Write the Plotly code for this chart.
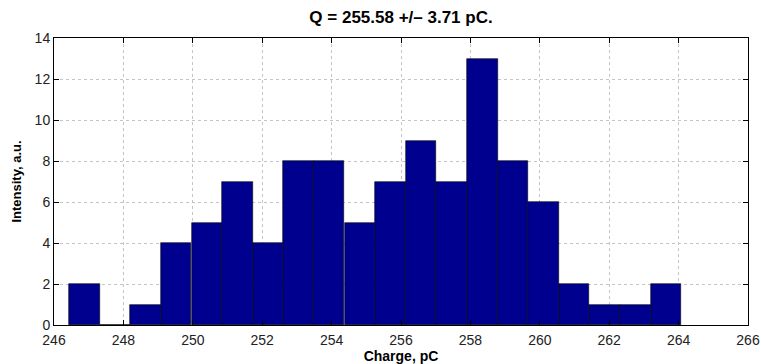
import plotly.graph_objects as go

bin_centers = [246.88, 247.76, 248.64, 249.52, 250.41, 251.29, 252.17, 253.05,
               253.93, 254.82, 255.70, 256.58, 257.46, 258.34, 259.23, 260.11,
               260.99, 261.87, 262.75, 263.64]
counts = [2, 0, 1, 4, 5, 7, 4, 8, 8, 5, 7, 9, 7, 13, 8, 6, 2, 1, 1, 2]
bin_width = 0.882
x_ticks = list(range(246, 267, 2))
y_ticks = list(range(0, 15, 2))
title_text = "Q = 255.58 +/\u2013 3.71 pC."

fig = go.Figure()
fig.add_trace(go.Bar(
    x=bin_centers, y=counts, width=bin_width,
    marker=dict(color="#00008F", line=dict(color="#000000", width=0.6)),
))

font_family = "Liberation Sans, Arial, Helvetica, sans-serif"
fig.update_layout(
    width=761, height=364,
    margin=dict(l=54, r=13, t=38, b=39, autoexpand=False),
    paper_bgcolor="white", plot_bgcolor="white",
    showlegend=False,
    bargap=0,
    font=dict(family=font_family, size=14, color="black"),
    title=dict(text="<b>" + title_text + "</b>", x=0.5, xref="paper",
               y=1 - 17 / 364, yref="container", xanchor="center",
               yanchor="middle",
               font=dict(size=17, family=font_family)),
)
axis_common = dict(
    showline=True, linecolor="black", linewidth=1, mirror="ticks",
    ticks="inside", ticklen=5, tickcolor="black", tickwidth=1,
    showgrid=True, gridcolor="#c4c4c4", griddash="dot", gridwidth=1,
    zeroline=False, tickfont=dict(size=14, color="#222"),
    automargin=False,
)
fig.update_xaxes(range=[246, 266], tickvals=x_ticks, ticklabelstandoff=2,
                 **axis_common,
                 title=dict(text="<b>Charge, pC</b>", standoff=0,
                            font=dict(size=14)))
fig.update_yaxes(range=[0, 14], tickvals=y_ticks, **axis_common,
                 title=dict(text="<b>Intensity, a.u.</b>", standoff=10,
                            font=dict(size=13)))

fig.write_html("out.html",
               config={"displayModeBar": False},
               post_script="document.body.style.margin='0';")
